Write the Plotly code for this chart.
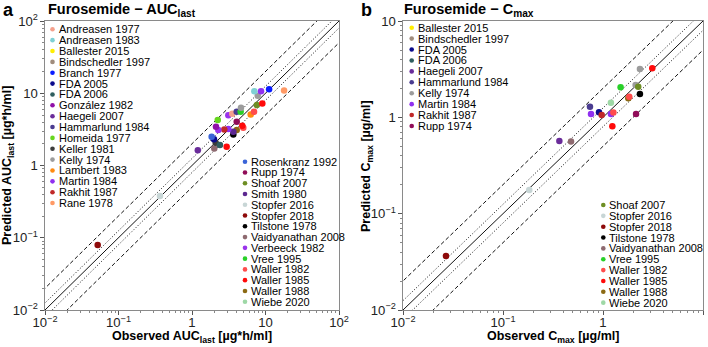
import numpy as np
import plotly.graph_objects as go

W, H = 708, 347
FONT = "Liberation Sans, Arial, sans-serif"

colors = {
    "Andreasen 1977": "#f4a08c", "Andreasen 1983": "#7fd0d4", "Ballester 2015": "#ffee00",
    "Bindschedler 1997": "#a08c7c", "Branch 1977": "#0a1cff", "FDA 2005": "#0a0a8c",
    "FDA 2006": "#2e5e5e", "González 1982": "#9010a8", "Haegeli 2007": "#6a2c9a",
    "Hammarlund 1984": "#4a3c90", "Homeida 1977": "#66d61e", "Keller 1981": "#3c3c3c",
    "Kelly 1974": "#9c9c9c", "Lambert 1983": "#ff8a10", "Martin 1984": "#9030f0",
    "Rakhit 1987": "#c02828", "Rane 1978": "#ff9a66", "Rosenkranz 1992": "#3a64d8",
    "Rupp 1974": "#900c58", "Shoaf 2007": "#6e8e24", "Smith 1980": "#5c2890",
    "Stopfer 2016": "#c8d6d6", "Stopfer 2018": "#8e0a0a", "Tilstone 1978": "#000000",
    "Vaidyanathan 2008": "#8e6a70", "Verbeeck 1982": "#9a34ec", "Vree 1995": "#28d028",
    "Waller 1982": "#ff4c4c", "Waller 1985": "#ff0a0a", "Waller 1988": "#8c6a14",
    "Wiebe 2020": "#9ed8a6",
}

legend_auc_1 = ["Andreasen 1977", "Andreasen 1983", "Ballester 2015", "Bindschedler 1997",
                "Branch 1977", "FDA 2005", "FDA 2006", "González 1982", "Haegeli 2007",
                "Hammarlund 1984", "Homeida 1977", "Keller 1981", "Kelly 1974",
                "Lambert 1983", "Martin 1984", "Rakhit 1987", "Rane 1978"]
legend_auc_2 = ["Rosenkranz 1992", "Rupp 1974", "Shoaf 2007", "Smith 1980", "Stopfer 2016",
                "Stopfer 2018", "Tilstone 1978", "Vaidyanathan 2008", "Verbeeck 1982",
                "Vree 1995", "Waller 1982", "Waller 1985", "Waller 1988", "Wiebe 2020"]
legend_cmax_1 = ["Ballester 2015", "Bindschedler 1997", "FDA 2005", "FDA 2006", "Haegeli 2007",
                 "Hammarlund 1984", "Kelly 1974", "Martin 1984", "Rakhit 1987", "Rupp 1974"]
legend_cmax_2 = ["Shoaf 2007", "Stopfer 2016", "Stopfer 2018", "Tilstone 1978",
                 "Vaidyanathan 2008", "Vree 1995", "Waller 1982", "Waller 1985",
                 "Waller 1988", "Wiebe 2020"]

# AUClast data [ug*h/ml]
auc_study = ["Haegeli 2007", "Vaidyanathan 2008", "Keller 1981", "FDA 2006", "Waller 1985",
             "FDA 2005", "Rosenkranz 1992", "Tilstone 1978", "Waller 1988", "Smith 1980",
             "Martin 1984", "Rakhit 1987", "Verbeeck 1982", "González 1982", "Waller 1982",
             "Waller 1985", "Rupp 1974", "Homeida 1977", "Verbeeck 1982", "Andreasen 1977",
             "Lambert 1983", "Waller 1982", "Hammarlund 1984", "Vree 1995", "Kelly 1974",
             "Shoaf 2007", "Waller 1985", "Kelly 1974", "Andreasen 1983", "Martin 1984",
             "Branch 1977", "Rane 1978", "Stopfer 2016", "Stopfer 2018"]
auc_obs = [1.20, 2.01, 2.10, 2.40, 2.96, 1.99, 1.85, 3.65, 4.06, 3.65,
           3.12, 2.75, 2.28, 2.12, 4.99, 4.83, 4.06, 2.24, 3.12, 3.53,
           6.29, 6.98, 4.06, 4.59, 4.64, 7.60, 9.05, 7.83, 7.05, 8.69,
           11.2, 17.9, 0.367, 0.0521]
auc_pred = [1.63, 1.72, 2.06, 1.92, 1.82, 2.30, 2.50, 2.69, 3.09, 2.93,
            3.19, 3.16, 3.09, 3.43, 3.32, 3.54, 4.02, 4.25, 4.98, 5.19,
            5.09, 5.53, 5.53, 5.53, 6.28, 6.85, 7.22, 9.20, 10.7, 10.7,
            11.4, 10.9, 0.378, 0.0793]

# Cmax data [ug/ml]
cmax_study = ["Stopfer 2018", "Stopfer 2016", "Haegeli 2007", "Vaidyanathan 2008",
              "Hammarlund 1984", "Martin 1984", "FDA 2005", "Rakhit 1987", "Martin 1984",
              "Waller 1982", "Waller 1985", "Wiebe 2020", "Vree 1995", "Waller 1988",
              "Waller 1982", "Kelly 1974", "Shoaf 2007", "Tilstone 1978", "Rupp 1974",
              "Kelly 1974", "Waller 1985"]
cmax_obs = [0.0269, 0.183, 0.366, 0.479, 0.741, 0.759, 0.912, 0.97, 1.20, 1.27, 1.24,
            1.20, 1.50, 1.79, 1.83, 2.12, 2.25, 2.34, 2.14, 2.34, 3.11]
cmax_pred = [0.0364, 0.176, 0.569, 0.560, 1.29, 1.08, 1.13, 1.06, 1.08, 1.12, 0.807,
             1.42, 2.05, 1.58, 1.64, 2.17, 2.08, 1.75, 1.08, 3.18, 3.24]

auc_range = [-2, 2]
cmax_range = [-2, 1]
fold_lines = [(1.0, "solid"), (1.25, "1px,2px"), (0.8, "1px,2px"),
              (2.0, "4px,2.5px"), (0.5, "4px,2.5px")]

fig = go.Figure()

def px2fx(p):
    return p / W

def py2fy(p):
    return 1 - p / H

panels = [
    dict(xa="x", ya="y", rng=auc_range, obs=auc_obs, pred=auc_pred, st=auc_study),
    dict(xa="x2", ya="y2", rng=cmax_range, obs=cmax_obs, pred=cmax_pred, st=cmax_study),
]
for p in panels:
    lo, hi = 10.0 ** p["rng"][0], 10.0 ** p["rng"][1]
    for f, dash in fold_lines:
        xs = np.array([lo / 4, hi * 4])
        fig.add_trace(go.Scatter(x=xs, y=xs * f, mode="lines", xaxis=p["xa"], yaxis=p["ya"],
                                 line=dict(color="#111", width=1, dash=dash),
                                 hoverinfo="skip", showlegend=False))
    fig.add_trace(go.Scatter(x=p["obs"], y=p["pred"], mode="markers", xaxis=p["xa"], yaxis=p["ya"],
                             marker=dict(size=6.5, color=[colors[s] for s in p["st"]], line=dict(width=0)),
                             text=p["st"], showlegend=False))

# manual legends (pixel coordinates on a hidden overlay axis)
legends = [
    (legend_auc_1, 52.5, 29.3, 10.86),
    (legend_auc_2, 245.0, 161.7, 10.77),
    (legend_cmax_1, 411.7, 27.7, 10.92),
    (legend_cmax_2, 603.3, 205.0, 10.85),
]
lx, ly, lc = [], [], []
annotations = []
for names, x0, y0, dy in legends:
    for i, n in enumerate(names):
        yy = y0 + i * dy
        lx.append(x0)
        ly.append(yy)
        lc.append(colors[n])
        annotations.append(dict(x=x0 + 4.0, y=yy, xref="x3", yref="y3", text=n, showarrow=False,
                                xanchor="left", yanchor="middle",
                                font=dict(family=FONT, size=11, color="#000")))
fig.add_trace(go.Scatter(x=lx, y=ly, mode="markers", xaxis="x3", yaxis="y3",
                         marker=dict(size=4.6, color=lc), hoverinfo="skip", showlegend=False))

# titles and axis titles
texts = [
    ("<b>a</b>", 1, 10, 18, "left", 0),
    ("<b>b</b>", 359, 10, 18, "left", 0),
    ("<b>Furosemide − AUC<sub>last</sub></b>", 46, 10, 14.5, "left", 0),
    ("<b>Furosemide − C<sub>max</sub></b>", 402, 10, 14.5, "left", 0),
    ("<b>Observed AUC<sub>last</sub> [µg*h/ml]</b>", 192, 337, 12.5, "center", 0),
    ("<b>Observed C<sub>max</sub> [µg/ml]</b>", 553, 337, 12.5, "center", 0),
    ("<b>Predicted AUC<sub>last</sub> [µg*h/ml]</b>", 8, 166, 12.5, "center", -90),
    ("<b>Predicted C<sub>max</sub> [µg/ml]</b>", 367, 166, 12.5, "center", -90),
]
for t, x, y, s, anc, ang in texts:
    annotations.append(dict(x=x, y=y, xref="x3", yref="y3", text=t, showarrow=False,
                            xanchor=anc, yanchor="middle", textangle=ang,
                            font=dict(family=FONT, size=s, color="#000")))

def log_axis(rng, domain, anchor, standoff):
    return dict(type="log", range=rng, domain=domain, anchor=anchor, dtick=1, automargin=False,
                exponentformat="power", showexponent="all", ticklabelstandoff=standoff,
                showgrid=False, zeroline=False, showline=True, linecolor="#8a8a8a", linewidth=1,
                mirror=True, ticks="outside", ticklen=4, tickcolor="#555", tickwidth=1,
                tickfont=dict(family=FONT, size=10.5, color="#222"),
                minor=dict(ticks="outside", ticklen=2, tickcolor="#888", dtick="D1", showgrid=False))

ydom = [py2fy(310), py2fy(21)]
fig.update_layout(
    width=W, height=H, margin=dict(l=0, r=0, t=0, b=0, autoexpand=False),
    paper_bgcolor="white", plot_bgcolor="rgba(0,0,0,0)", showlegend=False,
    font=dict(family=FONT, color="#000"),
    xaxis=log_axis(auc_range, [px2fx(45), px2fx(339)], "y", -3),
    yaxis=log_axis(auc_range, ydom, "x", 0),
    xaxis2=log_axis(cmax_range, [px2fx(403), px2fx(703)], "y2", -3),
    yaxis2=log_axis(cmax_range, ydom, "x2", 0),
    xaxis3=dict(domain=[0, 1], range=[0, W], visible=False, anchor="y3", fixedrange=True, automargin=False),
    yaxis3=dict(domain=[0, 1], range=[H, 0], visible=False, anchor="x3", fixedrange=True, automargin=False),
    annotations=annotations,
)

fig.write_html("out.html", config={"displayModeBar": False},
               post_script="document.body.style.margin='0';document.body.style.overflow='hidden';")
